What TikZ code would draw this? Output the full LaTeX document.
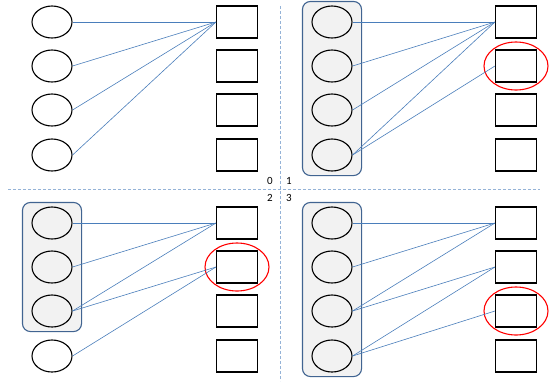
\documentclass[tikz,border=0pt]{standalone}
\usepackage{fontspec}
\setsansfont{Carlito}
\usetikzlibrary{shapes.geometric}
\usetikzlibrary{fit}
\usetikzlibrary{backgrounds}

\definecolor{linkblue}{RGB}{74,126,187}
\definecolor{gridblue}{RGB}{149,179,215}
\definecolor{groupblue}{RGB}{65,100,145}
\definecolor{groupfill}{RGB}{242,242,242}

\begin{document}
\begin{tikzpicture}[x=1pt,y=-1pt,
  unit node/.style={ellipse,draw,line width=1.1pt,minimum width=40pt,minimum height=32pt,inner sep=0pt},
  out node/.style={rectangle,draw,line width=1.1pt,minimum width=41pt,minimum height=32pt,inner sep=0pt},
  group box/.style={draw=groupblue,fill=groupfill,line width=1.1pt,rounded corners=8pt,inner xsep=9pt,inner ysep=4pt},
  pick/.style={ellipse,draw=red,line width=1.1pt,minimum width=64pt,minimum height=48pt},
  link/.style={draw=linkblue,line width=0.6pt},
  grid line/.style={draw=gridblue,dash pattern=on 3pt off 2pt,line width=0.9pt},
  tag/.style={font=\sffamily\fontsize{11}{13}\selectfont,inner sep=1pt}]

  \useasboundingbox (0,0) rectangle (557,384);

  % quadrant separators
  \draw[grid line] (280,6) -- (280,381);
  \draw[grid line] (8,189) -- (540,189);

  \node[tag] (t0) at (270,181) {0};
  \node[tag] (t1) at (289,181) {1};
  \node[tag] (t2) at (270,198) {2};
  \node[tag] (t3) at (289,198) {3};

  % units and outputs of the four quadrants
  \foreach \q/\ex/\sx/\dy in {0/52/237/0,1/332/516/0,2/52/237/201,3/332/516/201}
    \foreach \i/\y in {1/22,2/66,3/110,4/155}{
      \node[unit node] (q\q e\i) at (\ex,\y+\dy) {};
      \node[out node] (q\q s\i) at (\sx,\y+\dy) {};
    }

  \begin{scope}[on background layer]
    \node[group box,fit=(q1e1)(q1e4)] (g1) {};
    \node[group box,fit=(q2e1)(q2e3)] (g2) {};
    \node[group box,fit=(q3e1)(q3e4)] (g3) {};
  \end{scope}

  \node[pick] (p1) at (q1s2) {};
  \node[pick] (p2) at (q2s2) {};
  \node[pick] (p3) at (q3s3) {};

  \foreach \a/\b in {q0e1/q0s1,q0e2/q0s1,q0e3/q0s1,q0e4/q0s1,
                     q1e1/q1s1,q1e2/q1s1,q1e3/q1s1,q1e4/q1s1,q1e4/q1s2,
                     q2e1/q2s1,q2e2/q2s1,q2e3/q2s1,q2e3/q2s2,q2e4/q2s2,
                     q3e1/q3s1,q3e2/q3s1,q3e3/q3s1,q3e3/q3s2,q3e4/q3s2,q3e4/q3s3}
    \draw[link] (\a.east) -- (\b.west);
\end{tikzpicture}
\end{document}
